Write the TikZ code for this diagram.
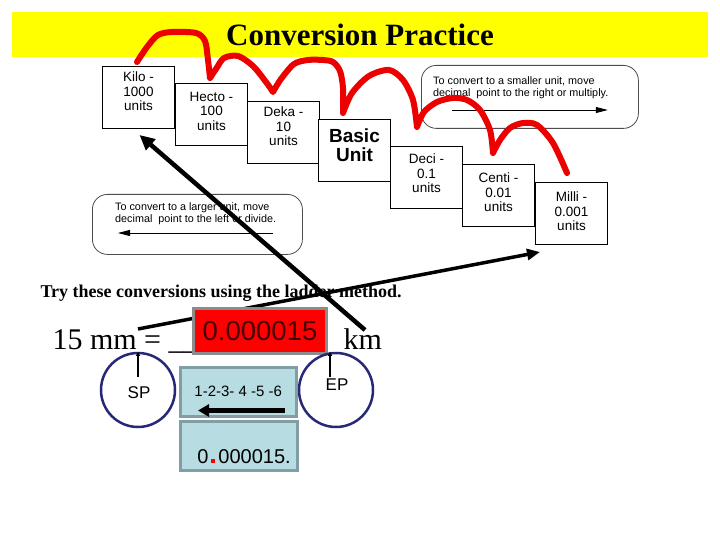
\documentclass[tikz,border=0pt]{standalone}
\usepackage{fontspec}
\setmainfont{Liberation Serif}
\setsansfont{Liberation Sans}
\usetikzlibrary{arrows.meta,positioning,calc}
\definecolor{banner}{RGB}{255,255,0}
\definecolor{hopred}{RGB}{236,0,0}
\definecolor{boxred}{RGB}{255,0,0}
\definecolor{navy}{RGB}{40,40,120}
\definecolor{paleblue}{RGB}{183,221,226}
\definecolor{steel}{RGB}{128,158,163}
\definecolor{darkred}{RGB}{70,0,0}

\tikzset{
    ladder/.style={draw=black, fill=white, line width=1pt, anchor=north west,
        minimum width=72pt, minimum height=62pt, inner sep=0pt},
    ladtext/.style={anchor=north, align=center, inner sep=0pt,
        font=\sffamily\fontsize{13.5}{14.5}\selectfont},
    notebox/.style={draw=black!70, fill=white, line width=0.8pt, rounded corners=15pt,
        anchor=north west, inner sep=0pt},
    notetext/.style={anchor=north west, align=left, inner sep=0pt,
        font=\sffamily\fontsize{10.8}{12}\selectfont},
    notearrow/.style={line width=0.8pt, -{Triangle[length=12pt,width=6pt]}},
    hop/.style={hopred, line width=6pt, line cap=round, line join=round},
    ring/.style={circle, draw=navy, line width=2.5pt, minimum size=74pt, inner sep=0pt},
    pointer/.style={line width=1.5pt, -{Triangle[length=4pt,width=4pt]}},
    tealbox/.style={draw=steel, fill=paleblue, line width=2.5pt, anchor=north west, inner sep=0pt},
}

\begin{document}
\begin{tikzpicture}[x=1pt, y=-1pt]
    \useasboundingbox (0,0) rectangle (720,540);
    \fill[white] (0,0) rectangle (720,540);

    % Title banner
    \fill[banner] (12,12) rectangle (708,57);
    \node[anchor=base, font=\bfseries\fontsize{31}{34}\selectfont] (title) at (360,46) {Conversion Practice};

    % Ladder of units
    \node[ladder] (kilo)  at (102,66)  {};
    \node[ladder] (hecto) at (175,83)  {};
    \node[ladder] (deka)  at (247,101) {};
    \node[ladder] (basic) at (318,119) {};
    \node[ladder] (deci)  at (390,146) {};
    \node[ladder] (centi) at (462,164) {};
    \node[ladder] (milli) at (535,182) {};
    \node[ladtext] (kilotext)  at ([yshift=-6pt]kilo.north)  {Kilo -\\1000\\units};
    \node[ladtext] (hectotext) at ([yshift=-9pt]hecto.north) {Hecto -\\100\\units};
    \node[ladtext] (dekatext)  at ([yshift=-6pt]deka.north)  {Deka -\\10\\units};
    \node[ladtext, font=\sffamily\bfseries\fontsize{19}{18.5}\selectfont] (basictext) at ([yshift=-10pt]basic.north) {Basic\\Unit};
    \node[ladtext] (decitext)  at ([yshift=-8pt]deci.north)  {Deci -\\0.1\\units};
    \node[ladtext] (centitext) at ([yshift=-9pt]centi.north) {Centi -\\0.01\\units};
    \node[ladtext] (millitext) at ([yshift=-10pt]milli.north) {Milli -\\0.001\\units};

    % Direction notes
    \node[notebox, minimum width=217pt, minimum height=63pt] (smaller) at (421,65) {};
    \node[notetext] (smallertext) at (433,76) {To convert to a smaller unit, move\\decimal\ \ point to the right or multiply.};
    \draw[notearrow] ([xshift=31pt,yshift=-45pt]smaller.north west) -- ([xshift=-31pt,yshift=-45pt]smaller.north east);

    \node[notebox, minimum width=210pt, minimum height=60pt] (larger) at (92,194) {};
    \node[notetext] (largertext) at (115,202) {To convert to a larger unit, move\\decimal\ \ point to the left or divide.};
    \draw[notearrow] ([xshift=-30pt,yshift=-39pt]larger.north east) -- ([xshift=26pt,yshift=-39pt]larger.north west);

    % Hops down the ladder
    \draw[hop] plot[smooth] coordinates {(137,62) (147,47) (158,35) (172,32) (196,33) (205,41) (208,60) (210,78)}
        -- plot[smooth] coordinates {(210,78) (216,69) (224,58) (238,56) (253,66) (266,82) (273,92)}
        -- plot[smooth] coordinates {(273,92) (281,79) (294,64) (308,60) (323,60) (333,62) (340,71) (343,88) (343,113)}
        -- plot[smooth] coordinates {(343,113) (352,93) (369,76) (389,70) (403,80) (413,100) (417,127)}
        -- plot[smooth] coordinates {(417,127) (424,112) (437,102) (453,98) (467,100) (480,110) (490,130) (493,153)}
        -- plot[smooth] coordinates {(493,153) (500,140) (510,128) (523,123) (537,125) (553,143) (567,173)};

    % Practice problem
    \node[anchor=base west, font=\bfseries\fontsize{18}{20}\selectfont] (task) at (37,297) {Try these conversions using the ladder method.};
    \node[anchor=base west, font=\fontsize{30}{32}\selectfont] (given) at (49,349) {15 mm = \_\_};
    \node[anchor=base west, font=\fontsize{30}{32}\selectfont] (km) at (340,349) {km};

    \coordinate (mmtail) at (138,329);
    \coordinate (kmtail) at (365,330);
    \draw[line width=3.5pt, -{Triangle[length=13pt,width=11pt]}] (mmtail) -- ([xshift=5pt,yshift=-7pt]milli.south west);

    \node[draw=black!45, line width=3pt, fill=boxred, anchor=north west, minimum width=133pt, minimum height=45pt,
        inner sep=0pt, text=darkred, font=\sffamily\fontsize{27.5}{30}\selectfont] (answer) at (192,307) {0.000015};

    % Start and end points
    \node[ring] (sp) at (138,390) {};
    \node[ring] (ep) at (336,390) {};
    \node[font=\sffamily\fontsize{17}{18}\selectfont, inner sep=0pt] (sptext) at (139,393) {SP};
    \node[font=\sffamily\fontsize{17}{18}\selectfont, inner sep=0pt] (eptext) at (337,385) {EP};
    \draw[pointer] ([yshift=-25pt]sp.north) -- (sp.north);
    \draw[pointer] ([xshift=-6pt,yshift=-25pt]ep.north) -- ([xshift=-6pt]ep.north);

    % Counting the moves
    \node[tealbox, minimum width=116pt, minimum height=49pt, font=\sffamily\fontsize{15}{16}\selectfont] (steps) at (179,366) {1-2-3- 4 -5 -6};
    \draw[line width=4.5pt, -{Triangle[length=11pt,width=12pt]}] ([xshift=-13pt,yshift=7pt]steps.south east) -- ([xshift=19pt,yshift=7pt]steps.south west);
    \node[tealbox, minimum width=117pt, minimum height=49pt] (result) at (179,420) {};
    \node[anchor=base, inner sep=0pt, font=\sffamily\fontsize{20}{22}\selectfont] (resulttext) at (244,463)
        {0\hspace{3pt}\textcolor{red}{\rule{4pt}{4pt}}\hspace{3pt}000015.};

    % Arrow back up to kilo
    \draw[line width=4.5pt, -{Triangle[length=15pt,width=14pt]}] (kmtail) -- ([xshift=1pt,yshift=-6pt]kilo.south);
\end{tikzpicture}
\end{document}
